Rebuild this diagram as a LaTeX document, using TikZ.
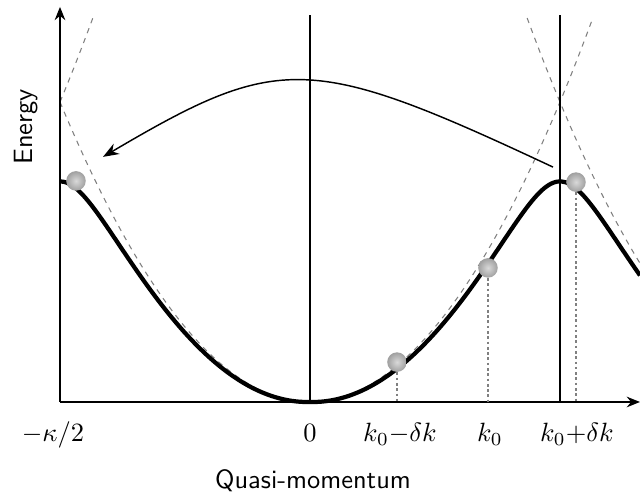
\documentclass[tikz,border=0pt]{standalone}
\usetikzlibrary{arrows.meta}

\begin{document}
\begin{tikzpicture}[x=3.325cm, y=3.99cm,
    axisline/.style={line width=0.75pt, -{Stealth[length=5pt,width=4pt]}},
    zoneline/.style={line width=0.75pt},
    freeline/.style={gray, line width=0.4pt, dash pattern=on 2pt off 2pt},
    bandline/.style={line width=1.6pt},
    dropline/.style={gray, line width=0.5pt, dash pattern=on 1pt off 1pt},
    atom/.style={circle, inner sep=0pt, minimum size=0.26cm,
                 shading=radial, inner color=gray!30, outer color=gray!75},
    ticklabel/.style={anchor=base},
    declare function={band(\k)=abs(\k)^2-2*abs(\k)+sqrt(4+\gap^2)-sqrt(4*(abs(\k)-1)^2+\gap^2);}]

% --- Define variables with \def ---
\def\gap{0.285}    % coupling at the zone edge
\def\top{1.28}     % where the free parabolas stop
\def\kmax{1.32}

% --- Calculate derived values with \pgfmathsetmacro ---
\pgfmathsetmacro{\kfree}{sqrt(\top)}
\pgfmathsetmacro{\kback}{2-\kfree}

\useasboundingbox (-1.24,-0.32) rectangle (\kmax,1.34);

% --- Axes and zone boundaries ---
\coordinate (O) at (0,0);
\coordinate (corner) at (-1,0);
\coordinate (ytip) at (-1,1.317);
\coordinate (xtip) at (\kmax,0);
\coordinate (mid) at (0,1.29);
\coordinate (edge) at (1,0);
\coordinate (edgetop) at (1,1.29);

% --- Free particle parabolas ---
\draw[freeline] plot[domain=-1:\kfree, samples=80, smooth] (\x,{(\x)^2});
\draw[freeline] plot[domain=\kback:\kmax, samples=40, smooth] (\x,{(\x-2)^2});
\draw[freeline] plot[domain=-1:-\kback, samples=20, smooth] (\x,{(\x+2)^2});

\draw[axisline] (corner) -- (ytip);
\draw[axisline] (corner) -- (xtip);
\draw[zoneline] (O) -- (mid);
\draw[zoneline] (edge) -- (edgetop);

% --- Lowest band ---
\draw[bandline] plot[domain=-1:\kmax, samples=141, smooth] (\x,{band(\x)});

% --- Jump across the zone ---
\coordinate (jumpfrom) at (0.972,0.783);
\coordinate (jumpto) at (-0.828,0.817);
\draw[line width=0.55pt, -{Stealth[length=6pt,width=4.5pt]}]
    (jumpfrom) .. controls (0,1.163) and (-0.124,1.163) .. (jumpto);

% --- Wave packets on the band ---
\foreach \name/\k/\e in {kedge/-0.936/0.737, kmd/0.348/0.133, kz/0.712/0.447, kpd/1.064/0.733}
    \node[atom] (\name) at (\k,\e) {};
\foreach \name in {kmd,kz,kpd}
    \draw[dropline] (\name.south) -- (\name.south |- O);

% --- Labels ---
\node[ticklabel] (lkappa) at (-1.028,-0.133) {$-\kappa/2$};
\node[ticklabel] (lzero) at (0,-0.133) {$0$};
\node[ticklabel] (lkmd) at (0.36,-0.133) {$k_0{-}\delta k$};
\node[ticklabel] (lkz) at (0.72,-0.133) {$k_0$};
\node[ticklabel] (lkpd) at (1.068,-0.133) {$k_0{+}\delta k$};
\node[anchor=base, font=\sffamily] (xlabel) at (0.012,-0.29) {Quasi-momentum};
\node[rotate=90, anchor=base, font=\sffamily] (ylabel) at (-1.108,0.917) {Energy};

\end{tikzpicture}
\end{document}
